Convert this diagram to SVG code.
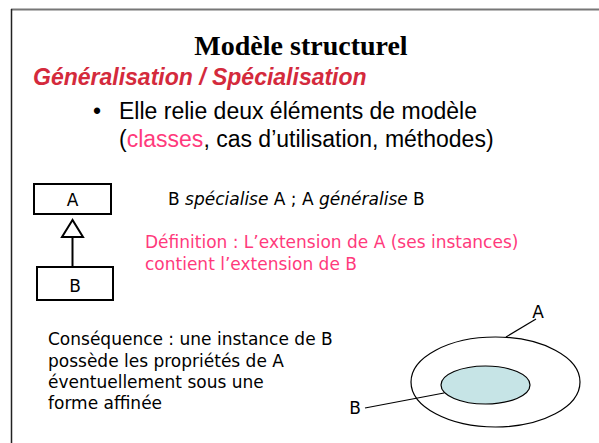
<svg xmlns="http://www.w3.org/2000/svg" width="599" height="443" viewBox="0 0 599 443">
<style>
.t{font-family:"DejaVu Sans",Verdana,sans-serif;font-size:17px;fill:#000}
.p{fill:#ff3a7c}
.a{font-family:"Liberation Sans",Arial,sans-serif;font-size:23px;fill:#000}
.box{fill:#fff;stroke:#000;stroke-width:2}
.ln{stroke:#000;stroke-width:1.2;fill:none}
</style>
<rect width="599" height="443" fill="#fff"/>
<line x1="11" y1="9.5" x2="599" y2="9.5" stroke="#777" stroke-width="2"/>
<line x1="11.5" y1="9" x2="11.5" y2="443" stroke="#222" stroke-width="1.5"/>
<text x="301" y="55" text-anchor="middle" font-family="Liberation Serif,Times New Roman,serif" font-size="28" font-weight="bold">Modèle structurel</text>
<text x="33" y="85" font-family="Liberation Sans,Arial,sans-serif" font-size="23" font-weight="bold" font-style="italic" fill="#d42a3c">Généralisation / Spécialisation</text>
<text x="93" y="119" class="a">•</text>
<text x="119" y="119" class="a">Elle relie deux éléments de modèle</text>
<text x="119" y="147" class="a">(<tspan class="p">classes</tspan>, cas d’utilisation, méthodes)</text>
<g id="nodeA"><rect class="box" x="34" y="184" width="77" height="30"/><text class="t" x="72.5" y="206" text-anchor="middle">A</text></g>
<g id="nodeB"><rect class="box" x="37" y="267" width="76" height="33"/><text class="t" x="75" y="292" text-anchor="middle">B</text></g>
<g id="connectors">
<line x1="72.5" y1="237" x2="72.5" y2="267" stroke="#000" stroke-width="2"/>
<polygon points="72.5,220 62,237 83,237" fill="#fff" stroke="#000" stroke-width="2"/>
<line class="ln" x1="506" y1="337" x2="536" y2="319"/>
<line class="ln" x1="365" y1="408" x2="444" y2="393"/>
</g>
<text class="t" x="168" y="205">B <tspan font-style="italic">spécialise</tspan> A ; A <tspan font-style="italic">généralise</tspan> B</text>
<text class="t p" x="145" y="248">Définition : L’extension de A (ses instances)</text>
<text class="t p" x="145" y="270">contient l’extension de B</text>
<text class="t" x="48" y="345">Conséquence : une instance de B</text>
<text class="t" x="48" y="367">possède les propriétés de A</text>
<text class="t" x="48" y="388">éventuellement sous une</text>
<text class="t" x="48" y="409">forme affinée</text>
<g id="setA"><ellipse cx="495.5" cy="382" rx="84.5" ry="45" fill="none" stroke="#000" stroke-width="1.2"/><text class="t" x="538" y="318" text-anchor="middle">A</text></g>
<g id="setB"><ellipse cx="485.5" cy="385" rx="44.5" ry="19" fill="#c6e4e6" stroke="#000" stroke-width="1.2"/><text class="t" x="355" y="414" text-anchor="middle">B</text></g>
</svg>
